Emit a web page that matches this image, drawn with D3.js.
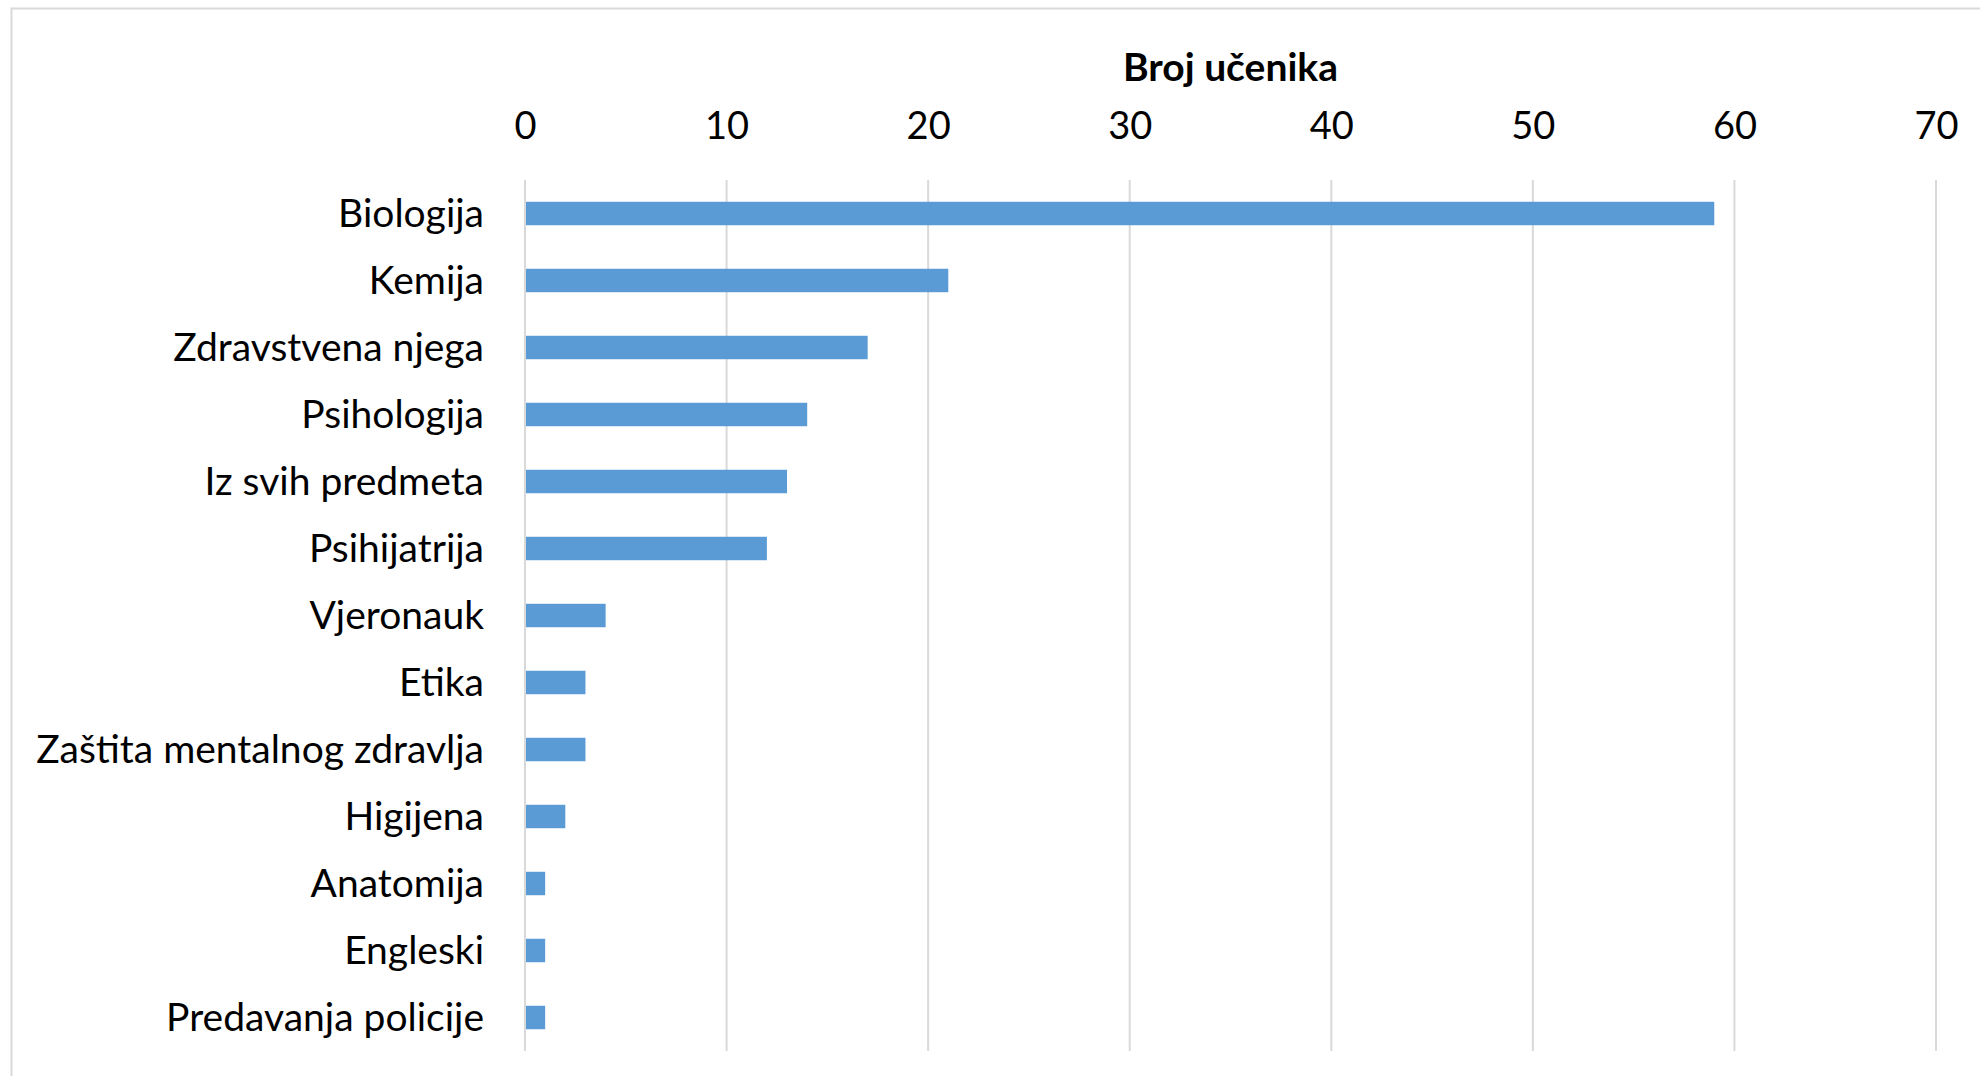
<!DOCTYPE html>
<html>
<head>
<meta charset="utf-8">
<script src="https://cdn.jsdelivr.net/npm/d3@7"></script>
<style>
    body { margin: 0; background: #fff; }
    text { font-family: Lato, "Open Sans", sans-serif; fill: #000; }
</style>
</head>
<body>
<svg id="chart"></svg>
<script>
var categories = ["Biologija", "Kemija", "Zdravstvena njega", "Psihologija", "Iz svih predmeta",
    "Psihijatrija", "Vjeronauk", "Etika", "Zaštita mentalnog zdravlja", "Higijena",
    "Anatomija", "Engleski", "Predavanja policije"];
var values = [59, 21, 17, 14, 13, 12, 4, 3, 3, 2, 1, 1, 1];
var ticks = [0, 10, 20, 30, 40, 50, 60, 70];
var axisTitle = "Broj učenika";

var width = 1980, height = 1076;
var svg = d3.select("#chart").attr("width", width).attr("height", height);

// chart border (only top and left are inside the picture)
svg.append("rect")
    .attr("x", 11.5).attr("y", 8.5)
    .attr("width", width).attr("height", height)
    .attr("fill", "none").attr("stroke", "#d9d9d9").attr("stroke-width", 2);

var x = d3.scaleLinear().domain([0, 70]).range([525, 1936]);
var y = d3.scaleBand().domain(categories).range([180, 1051])
    .paddingInner(0.65).paddingOuter(0.325);

// gridlines
svg.append("g").selectAll("line").data(ticks).enter().append("line")
    .attr("x1", function(d){ return x(d); })
    .attr("x2", function(d){ return x(d); })
    .attr("y1", 180).attr("y2", 1051)
    .attr("stroke", "#d9d9d9").attr("stroke-width", 2);

// bars
svg.append("g").selectAll("rect").data(values).enter().append("rect")
    .attr("x", x(0) + 1)
    .attr("y", function(d, i){ return y(categories[i]); })
    .attr("width", function(d){ return x(d) - x(0) - 1; })
    .attr("height", y.bandwidth())
    .attr("fill", "#5b9bd5");

// top axis tick labels
var xAxis = d3.axisTop(x).tickValues(ticks).tickSize(0).tickPadding(0);
var gx = svg.append("g").attr("transform", "translate(0,139)").call(xAxis);
gx.select(".domain").remove();
gx.selectAll("text")
    .attr("dy", 0)
    .style("font-size", "38px")
    .style("font-family", "Lato, sans-serif")
    .attr("fill", "#000");

// category labels
var yAxis = d3.axisLeft(y).tickSize(0).tickPadding(41);
var gy = svg.append("g").attr("transform", "translate(525,0)").call(yAxis);
gy.select(".domain").remove();
gy.selectAll("text")
    .attr("dy", "0.35em")
    .style("font-size", "39px")
    .style("font-family", "Lato, sans-serif")
    .attr("fill", "#000");

// axis title
svg.append("text")
    .attr("x", (x(0) + x(70)) / 2)
    .attr("y", 81)
    .attr("text-anchor", "middle")
    .style("font-size", "39px")
    .style("font-weight", "bold")
    .text(axisTitle);
</script>
</body>
</html>
